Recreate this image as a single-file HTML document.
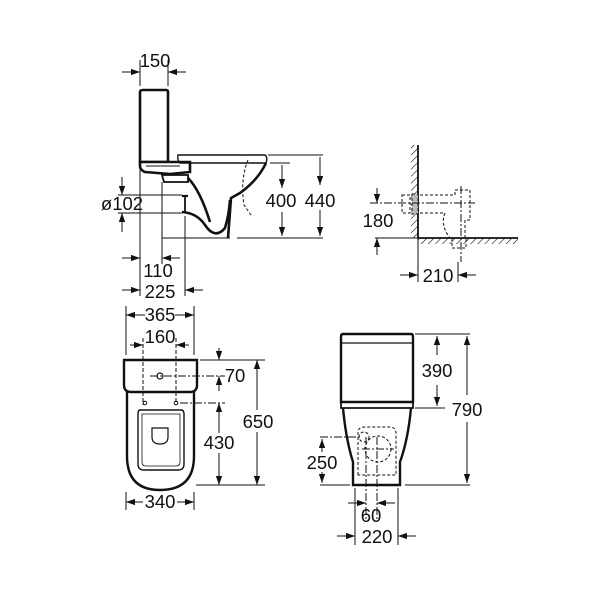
<!DOCTYPE html>
<html><head><meta charset="utf-8"><style>
html,body{margin:0;padding:0;background:#fff}
svg{display:block}
text{font-family:"Liberation Sans",sans-serif;font-size:18.5px;fill:#111}
</style></head><body>
<svg width="600" height="600" viewBox="0 0 600 600" xmlns="http://www.w3.org/2000/svg">
<defs>
<marker id="a" viewBox="0 0 10 10" refX="10" refY="5" markerWidth="9" markerHeight="9" orient="auto-start-reverse" markerUnits="userSpaceOnUse"><path d="M0,1.5 L10,5 L0,8.5 Z" fill="#111"/></marker>
<pattern id="h" width="5" height="5" patternUnits="userSpaceOnUse" patternTransform="rotate(45)"><line x1="0" y1="0" x2="0" y2="5" stroke="#111" stroke-width="1.2"/></pattern>
</defs>
<g stroke="#111" fill="none" stroke-width="1">
<line x1="140" y1="60" x2="140" y2="86"/><line x1="168" y1="60" x2="168" y2="86"/>
<line x1="122" y1="72" x2="140" y2="72" marker-end="url(#a)"/><line x1="186" y1="72" x2="168" y2="72" marker-end="url(#a)"/>
<path d="M140,92 Q140,90 143,90 L166,90 Q168,90 168,92 L168,162 L140,162 Z" stroke-width="2.6"/>
<path d="M140,162 L190,162 L190,172 L170,174 L145,172 Q140,170 140,166 Z" stroke-width="2.6" fill="#fff"/>
<line x1="146" y1="166" x2="180" y2="166" stroke-width="1"/>
<path d="M162,175 L188,175 L188,182 L164,182 Z" stroke-width="1.8"/>
<path d="M178,155 L265,155 Q268,157 266,163 L180,163 Q177,160 178,155 Z" stroke-width="1.4"/>
<path d="M266,163 Q258,180 240,193 L231,198 L228,238" stroke-width="2.6"/>
<path d="M188,178 Q200,190 210,222" stroke-width="2.6"/>
<path d="M182,212 Q197,213 205,225 Q215,240 225,228 Q229,215 230,200" stroke-width="2.6"/>
<line x1="185" y1="196" x2="185" y2="212" stroke-width="1.8"/>
<path d="M182,196 L188,196" stroke-width="2.2"/>
<path d="M248,160 Q240,180 244,205 L251,215" stroke-dasharray="3,2"/>
<line x1="162" y1="182" x2="162" y2="238"/><line x1="162" y1="238" x2="230" y2="238"/>
<line x1="237" y1="238" x2="323" y2="238"/>
<line x1="268" y1="155" x2="323" y2="155"/><line x1="270" y1="163" x2="290" y2="163"/>
<line x1="320" y1="157" x2="320" y2="185" marker-end="url(#a)"/><line x1="320" y1="210" x2="320" y2="236" marker-end="url(#a)"/>
<line x1="282" y1="165" x2="282" y2="188" marker-end="url(#a)"/><line x1="282" y1="212" x2="282" y2="236" marker-end="url(#a)"/>
<line x1="118" y1="195" x2="182" y2="195"/><line x1="118" y1="213" x2="182" y2="213"/>
<line x1="122" y1="177" x2="122" y2="195" marker-end="url(#a)"/><line x1="122" y1="232" x2="122" y2="213" marker-end="url(#a)"/>
<line x1="140" y1="170" x2="140" y2="296"/><line x1="162" y1="238" x2="162" y2="264"/><line x1="185" y1="216" x2="185" y2="296"/>
<line x1="122" y1="258" x2="140" y2="258" marker-end="url(#a)"/><line x1="180" y1="258" x2="162" y2="258" marker-end="url(#a)"/>
<line x1="122" y1="290" x2="140" y2="290" marker-end="url(#a)"/><line x1="203" y1="290" x2="185" y2="290" marker-end="url(#a)"/>
<rect x="411" y="145" width="7" height="93" fill="url(#h)" stroke="none"/>
<line x1="418" y1="145" x2="418" y2="238" stroke-width="1.8"/>
<rect x="418" y="238" width="100" height="6" fill="url(#h)" stroke="none"/>
<line x1="418" y1="238" x2="518" y2="238" stroke-width="1.8"/>
<g stroke-dasharray="3,2">
<path d="M402,195 L410,195 L410,213 L402,213 Z"/><rect x="412" y="194" width="6" height="20" fill="#bbb"/>
<path d="M420,195 L455,195 L455,190 L470,190 L470,220 L465,220 L465,238"/>
<path d="M420,213 L445,213 Q440,225 450,238"/>
<rect x="452" y="238" width="14" height="10"/>
</g>
<line x1="370" y1="203" x2="475" y2="203" stroke-dasharray="8,2,2,2"/>
<line x1="461" y1="186" x2="461" y2="262" stroke-dasharray="8,2,2,2"/>
<line x1="375" y1="238" x2="418" y2="238"/>
<line x1="377" y1="188" x2="377" y2="203" marker-end="url(#a)"/><line x1="377" y1="255" x2="377" y2="238" marker-end="url(#a)"/>
<line x1="418" y1="238" x2="418" y2="282"/><line x1="458" y1="262" x2="458" y2="282"/>
<line x1="400" y1="275" x2="418" y2="275" marker-end="url(#a)"/><line x1="476" y1="275" x2="458" y2="275" marker-end="url(#a)"/>
<line x1="126" y1="306" x2="126" y2="355"/><line x1="194" y1="306" x2="194" y2="355"/>
<line x1="126" y1="315" x2="145" y2="315" marker-start="url(#a)"/><line x1="175" y1="315" x2="194" y2="315" marker-end="url(#a)"/>
<line x1="143" y1="338" x2="143" y2="405" stroke-dasharray="4,2"/><line x1="176" y1="338" x2="176" y2="405" stroke-dasharray="4,2"/>
<line x1="130" y1="345" x2="143" y2="345" marker-end="url(#a)"/><line x1="189" y1="345" x2="176" y2="345" marker-end="url(#a)"/>
<path d="M124,360 L197,360 L197,385 Q197,392 190,392 L131,392 Q124,392 124,385 Z" stroke-width="2.4"/>
<path d="M127,392 L127,456 Q127,490 160,490 Q194,490 194,456 L194,392" stroke-width="2.4"/>
<path d="M140,410 L181,410 Q184,410 184,414 L184,464 Q184,470 178,470 L144,470 Q138,470 138,464 L138,414 Q138,410 140,410 Z" stroke-width="1.4"/>
<path d="M142,414 L180,414 L180,462 Q180,466 176,466 L146,466 Q142,466 142,462 Z" stroke-width="0.8"/>
<path d="M152,428 L168,428 L168,437 Q168,444 160,444 Q152,444 152,437 Z" stroke-width="1.2"/>
<circle cx="160" cy="376" r="3" stroke-width="1.2"/>
<circle cx="145" cy="403" r="1.8"/><circle cx="176" cy="403" r="1.8"/>
<line x1="150" y1="376" x2="225" y2="376" stroke-dasharray="8,2,2,2"/>
<line x1="180" y1="403" x2="225" y2="403" stroke-dasharray="8,2,2,2"/>
<line x1="200" y1="360" x2="265" y2="360"/><line x1="196" y1="485" x2="265" y2="485"/>
<line x1="219" y1="348" x2="219" y2="360" marker-end="url(#a)"/><line x1="219" y1="391" x2="219" y2="376" marker-end="url(#a)"/>
<line x1="219" y1="433" x2="219" y2="403" marker-end="url(#a)"/><line x1="219" y1="453" x2="219" y2="485" marker-end="url(#a)"/>
<line x1="257" y1="410" x2="257" y2="360" marker-end="url(#a)"/><line x1="257" y1="432" x2="257" y2="485" marker-end="url(#a)"/>
<line x1="126" y1="492" x2="126" y2="510"/><line x1="194" y1="492" x2="194" y2="510"/>
<line x1="143" y1="502" x2="126" y2="502" marker-end="url(#a)"/><line x1="177" y1="502" x2="194" y2="502" marker-end="url(#a)"/>
<path d="M343,334 L411,334 Q413,334 413,337 L413,402 L341,402 L341,337 Q341,334 343,334 Z" stroke-width="2.4"/>
<line x1="342" y1="343" x2="412" y2="343" stroke-width="1.2"/>
<path d="M341,402 L413,402 L413,408 L341,408 Z" stroke-width="1.8"/>
<path d="M343,408 Q346,440 353,462 L353,485 L400,485 L400,462 Q408,440 411,408" stroke-width="2.4"/>
<g stroke-dasharray="3,2">
<path d="M358,475 L358,432 Q358,427 365,427 L390,427 Q396,427 396,434 L396,475 Z"/>
<circle cx="378" cy="449" r="13"/>
<circle cx="364" cy="437" r="5"/>
</g>
<line x1="320" y1="437" x2="362" y2="437" stroke-dasharray="8,2,2,2"/>
<line x1="366" y1="437" x2="366" y2="520" stroke-dasharray="8,2,2,2"/>
<line x1="377" y1="437" x2="377" y2="520" stroke-dasharray="8,2,2,2"/>
<line x1="362" y1="449" x2="394" y2="449" stroke-dasharray="8,2,2,2"/>
<line x1="415" y1="334" x2="470" y2="334"/><line x1="415" y1="408" x2="445" y2="408"/><line x1="405" y1="485" x2="470" y2="485"/>
<line x1="320" y1="485" x2="350" y2="485"/>
<line x1="437" y1="355" x2="437" y2="336" marker-end="url(#a)"/><line x1="437" y1="385" x2="437" y2="406" marker-end="url(#a)"/>
<line x1="467" y1="395" x2="467" y2="336" marker-end="url(#a)"/><line x1="467" y1="422" x2="467" y2="483" marker-end="url(#a)"/>
<line x1="322" y1="452" x2="322" y2="439" marker-end="url(#a)"/><line x1="322" y1="472" x2="322" y2="483" marker-end="url(#a)"/>
<line x1="355" y1="488" x2="355" y2="545"/><line x1="398" y1="488" x2="398" y2="545"/>
<line x1="348" y1="503" x2="366" y2="503" marker-end="url(#a)"/><line x1="395" y1="503" x2="377" y2="503" marker-end="url(#a)"/>
<line x1="337" y1="536" x2="355" y2="536" marker-end="url(#a)"/><line x1="416" y1="536" x2="398" y2="536" marker-end="url(#a)"/>
</g>
<g text-anchor="middle">
<text x="155" y="67">150</text>
<text x="122" y="210">ø102</text>
<text x="281" y="207">400</text>
<text x="320" y="207">440</text>
<text x="158" y="277">110</text>
<text x="160" y="298">225</text>
<text x="378" y="227">180</text>
<text x="438" y="282">210</text>
<text x="160" y="321">365</text>
<text x="160" y="343">160</text>
<text x="235" y="382">70</text>
<text x="219" y="449">430</text>
<text x="258" y="428">650</text>
<text x="160" y="508">340</text>
<text x="437" y="377">390</text>
<text x="467" y="416">790</text>
<text x="322" y="469">250</text>
<text x="371" y="522">60</text>
<text x="377" y="543">220</text>
</g>
</svg>
</body></html>
